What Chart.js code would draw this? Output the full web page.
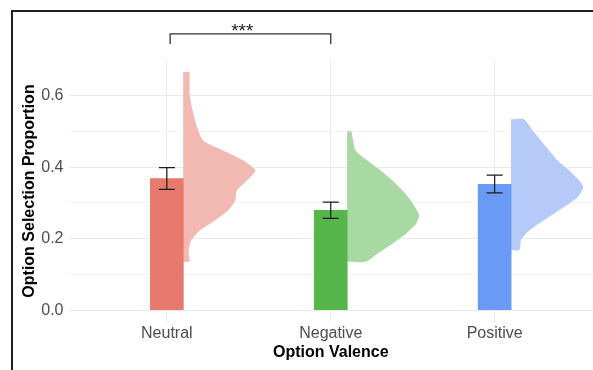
<!DOCTYPE html>
<html>
<head>
<meta charset="utf-8">
<script src="https://cdn.jsdelivr.net/npm/chart.js@4.4.1/dist/chart.umd.min.js"></script>
<style>
    body { margin: 0; background: #fff; }
    #wrap { position: relative; width: 593px; height: 370px; }
    #myChart { display: block; }
    #frame {
        position: absolute; left: 10.5px; top: 10px; width: 583px; height: 360px;
        border-top: 2px solid #1f1f1f; border-left: 2px solid #1f1f1f;
        box-sizing: border-box; pointer-events: none;
    }
</style>
</head>
<body>
<div id="wrap">
    <canvas id="myChart" width="593" height="370"></canvas>
    <div id="frame"></div>
</div>
<script>
// option selection proportion by valence, bars with 95% CI and half violins

const categories = ['Neutral', 'Negative', 'Positive']
const means = [0.368, 0.279, 0.352]
const ciLower = [0.338, 0.257, 0.328]
const ciUpper = [0.399, 0.302, 0.378]
const yTickValues = [0, 0.1, 0.2, 0.3, 0.4, 0.5, 0.6]

// half violin outlines: proportion levels (bottom to top) and relative density
const neutralLevels = [0.135, 0.140, 0.168, 0.196, 0.223, 0.251, 0.279, 0.307, 0.335, 0.363, 0.391, 0.419, 0.447, 0.475, 0.513, 0.559, 0.606, 0.666]
const neutralDensity = [0.084, 0.088, 0.074, 0.112, 0.229, 0.439, 0.621, 0.720, 0.743, 0.884, 1.0, 0.832, 0.551, 0.275, 0.191, 0.130, 0.088, 0.084]
const negativeLevels = [0.135, 0.158, 0.186, 0.214, 0.242, 0.265, 0.279, 0.307, 0.335, 0.363, 0.391, 0.419, 0.447, 0.475, 0.500]
const negativeDensity = [0.256, 0.419, 0.628, 0.814, 0.954, 1.0, 0.968, 0.884, 0.768, 0.628, 0.465, 0.279, 0.116, 0.084, 0.056]
const positiveLevels = [0.168, 0.196, 0.214, 0.233, 0.261, 0.289, 0.316, 0.344, 0.363, 0.391, 0.419, 0.447, 0.475, 0.503, 0.534]
const positiveDensity = [0.115, 0.138, 0.207, 0.322, 0.530, 0.737, 0.922, 1.0, 0.945, 0.806, 0.646, 0.530, 0.415, 0.300, 0.180]

// significance bracket between Neutral and Negative
const bracketPair = [0, 1]
const bracketLabel = '***'

const barColors = ['#E8796E', '#56B54B', '#6A9AF6']
const violinColors = ['#F2B8B2', '#A8D9A2', '#B5CAF9']

const FONT = "'Liberation Sans', Arial, Helvetica, sans-serif"
const barHalf = 0.1
const violinWidth = 0.44

function violinPoints(index, levels, density) {
    const edge = index + barHalf
    const pts = [{x: edge, y: levels[0]}]
    for (let i = 0; i < levels.length; i++) {
        pts.push({x: edge + density[i] * violinWidth, y: levels[i]})
    }
    pts.push({x: edge, y: levels[levels.length - 1]})
    return pts
}

function violinDataset(index, levels, density) {
    return {
        type: 'line',
        data: violinPoints(index, levels, density),
        backgroundColor: violinColors[index],
        borderWidth: 0,
        pointRadius: 0,
        tension: 0.2,
        fill: 'shape',
        order: 2
    }
}

const errorBarPlugin = {
    id: 'errorBars',
    afterDatasetsDraw(chart) {
        const {ctx, scales: {x, y}} = chart
        ctx.save()
        ctx.strokeStyle = '#1a1a1a'
        ctx.lineWidth = 1.2
        for (let i = 0; i < categories.length; i++) {
            const px = x.getPixelForValue(i)
            const top = y.getPixelForValue(ciUpper[i])
            const bottom = y.getPixelForValue(ciLower[i])
            ctx.beginPath()
            ctx.moveTo(px, top)
            ctx.lineTo(px, bottom)
            ctx.moveTo(px - 8, top)
            ctx.lineTo(px + 8, top)
            ctx.moveTo(px - 8, bottom)
            ctx.lineTo(px + 8, bottom)
            ctx.stroke()
        }
        ctx.restore()
    }
}

const bracketPlugin = {
    id: 'bracket',
    afterDraw(chart) {
        const {ctx, scales: {x, y}} = chart
        const x1 = x.getPixelForValue(bracketPair[0] + 0.02)
        const x2 = x.getPixelForValue(bracketPair[1])
        const yTop = y.getPixelForValue(0.773)
        const yTip = y.getPixelForValue(0.745)
        ctx.save()
        ctx.strokeStyle = '#333'
        ctx.lineWidth = 1.3
        ctx.beginPath()
        ctx.moveTo(x1, yTip)
        ctx.lineTo(x1, yTop)
        ctx.lineTo(x2, yTop)
        ctx.lineTo(x2, yTip)
        ctx.stroke()
        ctx.fillStyle = '#222'
        ctx.font = '19px ' + FONT
        ctx.textAlign = 'center'
        ctx.textBaseline = 'alphabetic'
        ctx.fillText(bracketLabel, x.getPixelForValue(0.46), y.getPixelForValue(0.765))
        ctx.restore()
    }
}

const ctx = document.getElementById('myChart')
new Chart(ctx, {
    type: 'bar',
    data: {
        datasets: [
            {
                type: 'bar',
                data: means.map((m, i) => ({x: i, y: m})),
                backgroundColor: barColors,
                barThickness: 33,
                order: 1
            },
            violinDataset(0, neutralLevels, neutralDensity),
            violinDataset(1, negativeLevels, negativeDensity),
            violinDataset(2, positiveLevels, positiveDensity)
        ]
    },
    options: {
        responsive: false,
        animation: false,
        layout: {
            padding: {top: 60, left: 0, right: 0, bottom: 0}
        },
        plugins: {
            legend: {display: false},
            tooltip: {enabled: false}
        },
        scales: {
            x: {
                type: 'linear',
                min: -0.6,
                max: 2.6,
                offset: false,
                afterBuildTicks: s => { s.ticks = categories.map((c, i) => ({value: i})) },
                afterFit: s => { s.height = 48 },
                border: {display: false},
                grid: {color: '#ECECEC', drawTicks: false, offset: false},
                ticks: {
                    padding: 2,
                    color: '#4D4D4D',
                    font: {family: FONT, size: 16},
                    callback: v => categories[v]
                },
                title: {
                    display: true,
                    text: 'Option Valence',
                    color: '#000',
                    font: {family: FONT, size: 16, weight: 'bold'},
                    padding: {top: 0, bottom: 8}
                }
            },
            y: {
                min: -0.0333,
                max: 0.7,
                afterBuildTicks: s => { s.ticks = yTickValues.map(v => ({value: v})) },
                afterFit: s => { s.width = 68.5 },
                border: {display: false},
                grid: {
                    drawTicks: false,
                    color: c => (c.tick && Math.round(c.tick.value * 10) % 2 === 1) ? '#F3F3F3' : '#EAEAEA'
                },
                ticks: {
                    padding: 5,
                    color: '#4D4D4D',
                    font: {family: FONT, size: 16},
                    callback: v => Math.round(v * 10) % 2 === 0 ? v.toFixed(1) : ''
                },
                title: {
                    display: true,
                    text: 'Option Selection Proportion',
                    color: '#000',
                    font: {family: FONT, size: 16, weight: 'bold'},
                    padding: {top: 20, bottom: 0}
                }
            }
        }
    },
    plugins: [errorBarPlugin, bracketPlugin]
})
</script>
</body>
</html>
